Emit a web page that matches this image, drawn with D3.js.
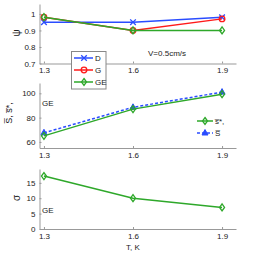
<!DOCTYPE html>
<html lang="en">
<head>
<meta charset="utf-8">
<script src="https://cdn.jsdelivr.net/npm/d3@7"></script>
<style>
  body { margin: 0; background: #fff; }
  text { font-family: "Liberation Sans", Arial, sans-serif; fill: #222; }
</style>
</head>
<body>
<div id="svg"></div>
<script>
    // data
    var temps = [1.3, 1.6, 1.9];
    var xTicks = ["1.3", "1.6", "1.9"];

    var psiD = [0.95, 0.95, 0.98];
    var psiG = [0.98, 0.90, 0.97];
    var psiGE = [0.98, 0.90, 0.90];

    var sStar = [65, 87, 99.3];
    var sBar = [67.5, 88.5, 101];

    var sigma = [17.2, 10, 7];

    var psiTicks = [0.7, 0.8, 0.9, 1];
    var sTicks = [60, 80, 100];
    var sigmaTicks = [0, 5, 10, 15];

    var blue = "#2a4cff", red = "#ff1a1a", green = "#2ea82a";

    var width = 256, height = 258;
    var svg = d3.select("#svg").append("svg")
        .attr("width", width)
        .attr("height", height);

    var x = d3.scaleLinear().domain([1.285, 1.947]).range([39.5, 236]);

    // one panel = left + bottom axis, returns y scale
    function panel(domain, top, bottom, ticks, fmt) {
        var y = d3.scaleLinear().domain(domain).range([bottom, top]);
        var g = svg.append("g");
        g.append("g")
            .attr("transform", "translate(0," + bottom + ")")
            .call(d3.axisBottom(x).tickValues(temps).tickSizeInner(-2).tickSizeOuter(0)
                .tickPadding(4).tickFormat(function(d, i){ return xTicks[i]; }));
        g.append("g")
            .attr("transform", "translate(39.5,0)")
            .call(d3.axisLeft(y).tickValues(ticks).tickSizeInner(-2).tickSizeOuter(0)
                .tickPadding(4).tickFormat(fmt));
        g.selectAll(".domain, .tick line").attr("stroke", "#999");
        g.selectAll(".tick text").style("font-size", "8px").attr("fill", "#222");
        return y;
    }

    function series(y, vals, color, dash, marker) {
        var line = d3.line()
            .x(function(d, i){ return x(temps[i]); })
            .y(function(d){ return y(d); });
        svg.append("path")
            .datum(vals)
            .attr("d", line)
            .attr("fill", "none")
            .attr("stroke", color)
            .attr("stroke-width", 1.5)
            .attr("stroke-dasharray", dash);
        vals.forEach(function(d, i){
            drawMarker(x(temps[i]), y(d), color, marker);
        });
    }

    function drawMarker(cx, cy, color, marker) {
        var s = 2.8;
        if (marker == "x") {
            svg.append("path")
                .attr("d", "M" + (cx-s) + "," + (cy-s) + "L" + (cx+s) + "," + (cy+s) +
                    "M" + (cx-s) + "," + (cy+s) + "L" + (cx+s) + "," + (cy-s))
                .attr("stroke", color).attr("stroke-width", 1.3);
        } else if (marker == "o") {
            svg.append("circle").attr("cx", cx).attr("cy", cy).attr("r", s)
                .attr("fill", "none").attr("stroke", color).attr("stroke-width", 1.3);
        } else if (marker == "d") {
            svg.append("path")
                .attr("d", "M" + cx + "," + (cy-3.5) + "L" + (cx+2.5) + "," + cy +
                    "L" + cx + "," + (cy+3.5) + "L" + (cx-2.5) + "," + cy + "Z")
                .attr("fill", "none").attr("stroke", color).attr("stroke-width", 1.3);
        } else if (marker == "t") {
            svg.append("path")
                .attr("d", "M" + cx + "," + (cy-3.5) + "L" + (cx+3) + "," + (cy+2) +
                    "L" + (cx-3) + "," + (cy+2) + "Z")
                .attr("fill", color).attr("stroke", color).attr("stroke-width", 1);
        }
    }

    function ylabel(txt, cx, cy, size) {
        svg.append("text")
            .attr("transform", "translate(" + cx + "," + cy + ") rotate(-90)")
            .attr("text-anchor", "middle")
            .style("font-size", size + "px")
            .text(txt);
    }

    // --------------------------------------------------
    // top: psi
    var y1 = panel([0.7, 1.06], 4, 63.5, psiTicks, d3.format("~g"));
    series(y1, psiD, blue, null, "x");
    series(y1, psiG, red, null, "o");
    series(y1, psiGE, green, null, "d");
    ylabel("\u03c8", 20, 33, 10);
    svg.append("text").attr("x", 148).attr("y", 56).style("font-size", "8px").text("V=0.5cm/s");

    // --------------------------------------------------
    // middle: S, s*
    var y2 = panel([55, 108.5], 83, 148, sTicks, d3.format("d"));
    series(y2, sBar, blue, "3,2", "t");
    series(y2, sStar, green, null, "d");
    ylabel("S\u0305, s\u0305*,", 12, 113, 9);
    svg.append("text").attr("x", 42).attr("y", 106).style("font-size", "8px").text("GE");

    // legend middle
    var lg2 = [
        {label: "s\u0305*,", color: green, dash: null, marker: "d", y: 121},
        {label: "S\u0305", color: blue, dash: "3,2", marker: "t", y: 133}
    ];
    lg2.forEach(function(d){
        svg.append("line").attr("x1", 197).attr("x2", 213).attr("y1", d.y).attr("y2", d.y)
            .attr("stroke", d.color).attr("stroke-width", 1.5).attr("stroke-dasharray", d.dash);
        drawMarker(205, d.y, d.color, d.marker);
        svg.append("text").attr("x", 215).attr("y", d.y + 3).style("font-size", "8px").text(d.label);
    });

    // --------------------------------------------------
    // bottom: sigma
    var y3 = panel([0, 19.5], 169, 229, sigmaTicks, d3.format("d"));
    series(y3, sigma, green, null, "d");
    ylabel("\u03c3", 20, 198, 10);
    svg.append("text").attr("x", 42).attr("y", 213).style("font-size", "8px").text("GE");
    svg.append("text").attr("x", 133).attr("y", 249.5).attr("text-anchor", "middle")
        .style("font-size", "8px").text("T, K");

    // --------------------------------------------------
    // legend top (drawn last, covers axis)
    var lg1 = [
        {label: "D", color: blue, marker: "x"},
        {label: "G", color: red, marker: "o"},
        {label: "GE", color: green, marker: "d"}
    ];
    svg.append("rect").attr("x", 71.5).attr("y", 51.5).attr("width", 34.5).attr("height", 37.5)
        .attr("fill", "#fff").attr("stroke", "#888").attr("stroke-width", 1);
    lg1.forEach(function(d, i){
        var ly = 58 + i * 12;
        svg.append("line").attr("x1", 74).attr("x2", 93).attr("y1", ly).attr("y2", ly)
            .attr("stroke", d.color).attr("stroke-width", 1.5);
        drawMarker(84, ly, d.color, d.marker);
        svg.append("text").attr("x", 95).attr("y", ly + 3).style("font-size", "8px").text(d.label);
    });
</script>
</body>
</html>
